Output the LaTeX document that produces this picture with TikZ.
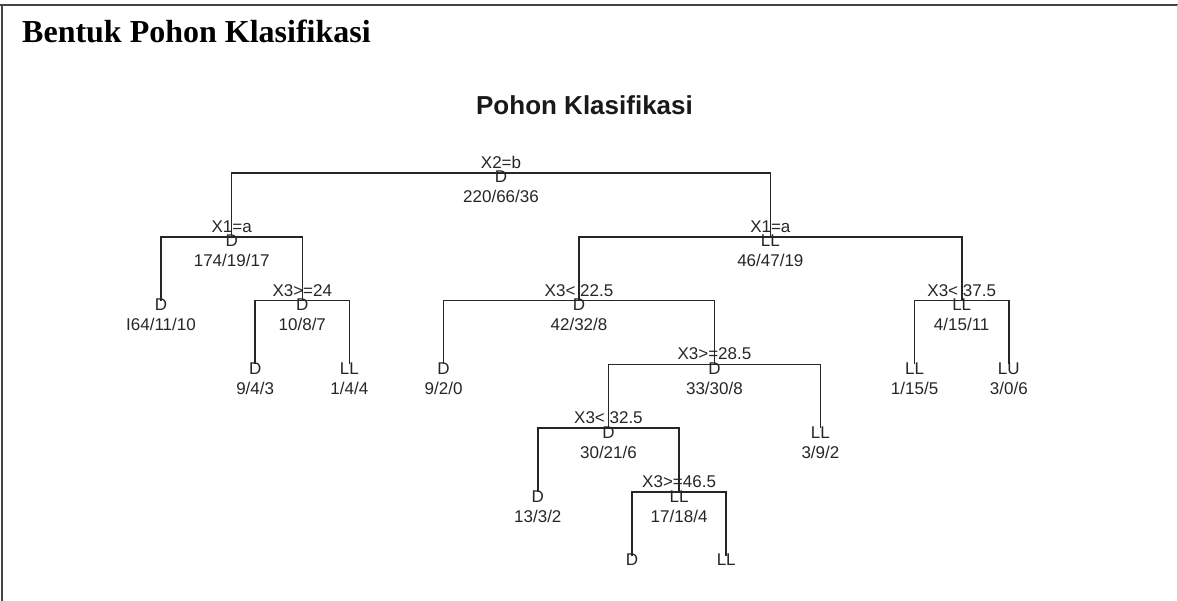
\documentclass[tikz,border=0pt]{standalone}
\usepackage{fontspec}
\setmainfont{Liberation Serif}
\newfontfamily\arialfont{Liberation Sans}
\definecolor{treegray}{HTML}{262626}
\definecolor{borderdark}{HTML}{444444}
\definecolor{borderlight}{HTML}{D0D0D0}
\newcommand\splitnode[6]{%
  \coordinate (#1) at (#2,#3);
  \node[lbl] (#1-s) at ([yshift=4.5pt]#1) {#4};
  \node[lbl] (#1-c) at ([yshift=-10pt]#1) {#5};
  \node[lbl] (#1-n) at ([yshift=-30pt]#1) {#6};
}
\newcommand\leafnode[5]{%
  \coordinate (#1) at (#2,#3);
  \node[lbl] (#1-c) at ([yshift=-10pt]#1) {#4};
  \node[lbl] (#1-n) at ([yshift=-30pt]#1) {#5};
}
\newcommand\leafclass[4]{%
  \coordinate (#1) at (#2,#3);
  \node[lbl] (#1-c) at ([yshift=-10pt]#1) {#4};
}
\begin{document}
\begin{tikzpicture}[x=1pt,y=-1pt,
  tline/.style={draw=treegray, line width=1.6pt},
  lbl/.style={font=\arialfont\fontsize{17}{19}\selectfont, text=treegray, inner sep=0pt, anchor=base},
  frameline/.style={line width=2pt, draw=borderdark}]
\useasboundingbox (0,0) rectangle (1178,601);
% frame
\draw[frameline] (0,5) -- (1178,5);
\draw[frameline] (2,5) -- (2,601);
\draw[line width=1pt, draw=borderlight] (1177.5,5) -- (1177.5,601);
% titles
\node[font=\bfseries\fontsize{32}{38}\selectfont, anchor=base west, inner sep=0pt] (title) at (22,43) {Bentuk Pohon Klasifikasi};
\node[font=\arialfont\bfseries\fontsize{26}{31}\selectfont, anchor=base, inner sep=0pt, text=black!90] (ptitle) at (584.5,115) {Pohon Klasifikasi};
% internal nodes
\splitnode{root}{501}{173}{X2=b}{D}{220/66/36}
\splitnode{nL}{231.65}{236.8}{X1=a}{D}{174/19/17}
\splitnode{n24}{302.3}{300.6}{X3>=24}{D}{10/8/7}
\splitnode{nR}{770.35}{236.8}{X1=a}{LL}{46/47/19}
\splitnode{n22}{579}{300.6}{X3< 22.5}{D}{42/32/8}
\splitnode{n28}{714.4}{364.4}{X3>=28.5}{D}{33/30/8}
\splitnode{n32}{608.45}{428.2}{X3< 32.5}{D}{30/21/6}
\splitnode{n46}{679.1}{492}{X3>=46.5}{LL}{17/18/4}
\splitnode{n37}{961.7}{300.6}{X3< 37.5}{LL}{4/15/11}
% leaves
\leafnode{L0}{161}{300.6}{D}{I64/11/10}
\leafnode{L1}{255.2}{364.4}{D}{9/4/3}
\leafnode{L2}{349.4}{364.4}{LL}{1/4/4}
\leafnode{L3}{443.6}{364.4}{D}{9/2/0}
\leafnode{L4}{537.8}{492}{D}{13/3/2}
\leafclass{L5}{632}{555.8}{D}
\leafclass{L6}{726.2}{555.8}{LL}
\leafnode{L7}{820.4}{428.2}{LL}{3/9/2}
\leafnode{L8}{914.6}{364.4}{LL}{1/15/5}
\leafnode{L9}{1008.8}{364.4}{LU}{3/0/6}
% connectors
\draw[tline] (nL) |- (root) -| (nR);
\draw[tline] (L0) |- (nL) -| (n24);
\draw[tline] (L1) |- (n24) -| (L2);
\draw[tline] (n22) |- (nR) -| (n37);
\draw[tline] (L3) |- (n22) -| (n28);
\draw[tline] (n32) |- (n28) -| (L7);
\draw[tline] (L4) |- (n32) -| (n46);
\draw[tline] (L5) |- (n46) -| (L6);
\draw[tline] (L8) |- (n37) -| (L9);
\end{tikzpicture}
\end{document}
